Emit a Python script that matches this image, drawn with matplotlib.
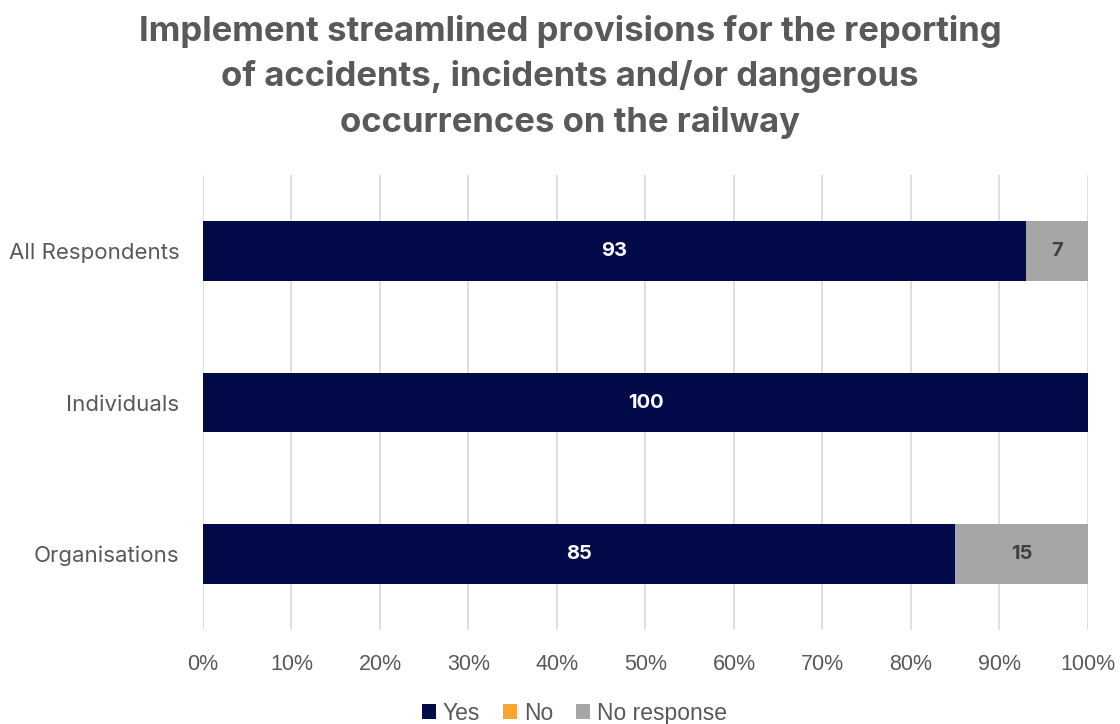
import numpy as np
import matplotlib.pyplot as plt
from matplotlib.patches import Patch

categories = ['All Respondents', 'Individuals', 'Organisations']
yes = [93, 100, 85]
no = [0, 0, 0]
no_response = [7, 0, 15]
series_names = ['Yes', 'No', 'No response']
tick_labels = ['0%', '10%', '20%', '30%', '40%', '50%', '60%', '70%', '80%', '90%', '100%']

colors = ['#030A4A', '#F9A533', '#A6A6A6']
label_colors = ['white', '#404040', '#404040']
textcolor = '#595959'

fig = plt.figure(figsize=(11.2, 7.24), dpi=100)
ax = fig.add_axes([0.18125, 0.1298, 0.9714 - 0.18125, 0.7583 - 0.1298])

y = np.arange(len(categories))
left = np.zeros(len(categories))
for vals, col, lcol in zip([yes, no, no_response], colors, label_colors):
    vals = np.array(vals, dtype=float)
    ax.barh(y, vals, left=left, height=0.395, color=col, zorder=3)
    for yi, v, l in zip(y, vals, left):
        if v > 0:
            ax.text(l + v / 2, yi, '%d' % v, ha='center', va='center',
                    color=lcol, fontsize=14.5, fontweight='bold',
                    family='Inter', zorder=4)
    left += vals

ax.set_xlim(0, 100)
ax.set_ylim(2.5, -0.5)
ax.set_xticks(np.arange(0, 101, 10))
ax.set_xticklabels(tick_labels, fontsize=15.5, color=textcolor, family='Liberation Sans')
ax.set_yticks(y)
ax.set_yticklabels(categories, fontsize=16, color=textcolor, family='Inter')
ax.tick_params(length=0, pad=17, axis='y')
ax.tick_params(length=0, pad=17, axis='x')
ax.xaxis.grid(True, color='#D9D9D9', lw=1.2, zorder=0)
for s in ax.spines.values():
    s.set_visible(False)

fig.text(0.509, 0.979, 'Implement streamlined provisions for the reporting\n'
         'of accidents, incidents and/or dangerous\noccurrences on the railway',
         ha='center', va='top', fontsize=25, fontweight='bold', color=textcolor,
         family='Inter', linespacing=1.47)

handles = [Patch(facecolor=c) for c in colors]
fig.legend(handles, series_names, loc='center', bbox_to_anchor=(0.513, 0.015),
           ncol=3, frameon=False, handlelength=0.6, handleheight=0.6,
           handletextpad=0.3, columnspacing=1.0,
           prop={'family': 'Liberation Sans', 'size': 16.5}, labelcolor=textcolor)

fig.savefig('out.png', dpi=100)
